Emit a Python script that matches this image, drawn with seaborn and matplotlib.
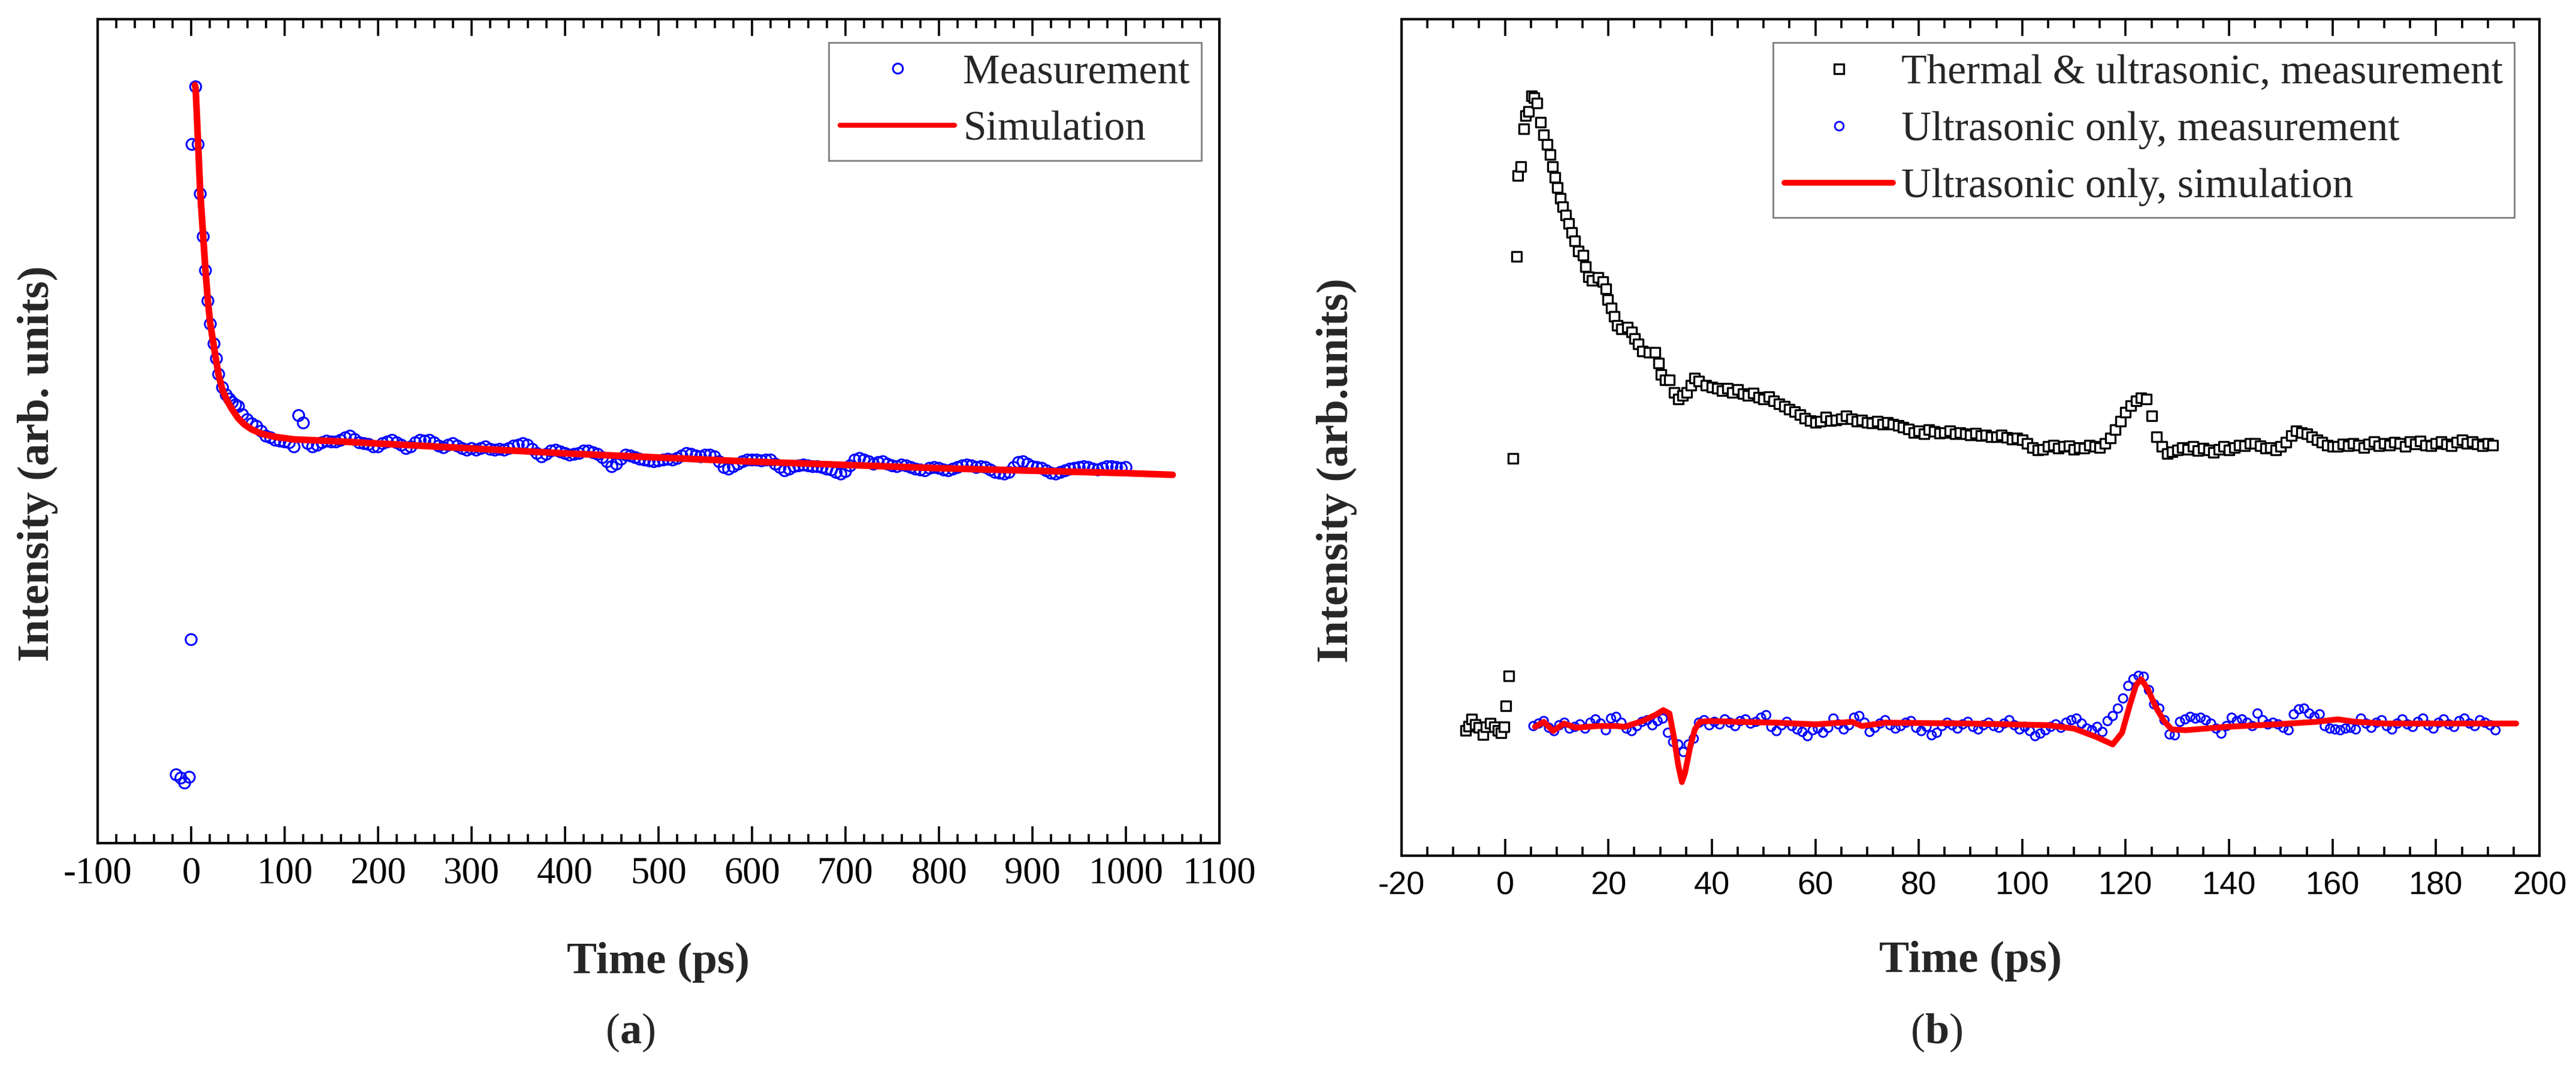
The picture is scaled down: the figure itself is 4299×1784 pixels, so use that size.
import numpy as np
import matplotlib
matplotlib.use("Agg")
import matplotlib.pyplot as plt
from matplotlib.lines import Line2D
from matplotlib.ticker import MultipleLocator, AutoMinorLocator
import seaborn as sns

# ---- panel (a) data : intensity in arbitrary units (0-100 of the axis) ----
a_meas_early_t = [-16, -11, -7, -2, 0, 0.9, 4.8, 7.4, 9.7, 12.9, 15.3, 17.9, 20.5,
                  24.4, 27, 29.4, 33.5, 37.5, 41, 44, 47.5, 50.6]
a_meas_early_v = [8.3, 7.9, 7.3, 8.0, 24.7, 84.8, 91.8, 84.8, 78.8, 73.6, 69.5, 65.8, 63.0,
                  60.6, 58.8, 56.9, 55.3, 54.4, 53.9, 53.5, 53.2, 53.0]
a_meas_tail_t = np.arange(55, 1001, 5)
a_meas_tail_v = [
    52.0, 51.4, 50.9, 50.6, 50.0, 49.4, 49.2, 48.9, 48.8, 48.7,
    48.6, 48.1, 51.9, 51.0, 48.5, 48.1, 48.3, 48.6, 48.8, 48.7,
    48.7, 48.9, 49.2, 49.4, 49.0, 48.6, 48.5, 48.4, 48.1, 48.1,
    48.5, 48.7, 48.9, 48.6, 48.3, 47.9, 48.1, 48.6, 48.9, 48.8,
    48.9, 48.6, 48.2, 48.0, 48.3, 48.5, 48.2, 47.9, 47.7, 47.9,
    47.7, 47.9, 48.1, 47.8, 47.7, 47.8, 47.7, 47.9, 48.2, 48.3,
    48.5, 48.3, 47.8, 47.3, 46.9, 47.2, 47.6, 47.7, 47.5, 47.3,
    47.1, 47.2, 47.3, 47.6, 47.6, 47.4, 47.2, 46.8, 46.3, 45.7,
    46.0, 46.6, 47.1, 47.0, 46.8, 46.6, 46.5, 46.4, 46.3, 46.4,
    46.5, 46.6, 46.5, 46.7, 47.0, 47.3, 47.2, 47.0, 46.9, 47.1,
    47.1, 46.9, 46.3, 45.6, 45.4, 45.7, 46.0, 46.3, 46.5, 46.5,
    46.5, 46.4, 46.5, 46.5, 46.0, 45.6, 45.2, 45.4, 45.7, 45.8,
    45.9, 45.8, 45.7, 45.7, 45.6, 45.4, 45.3, 45.0, 44.8, 45.1,
    45.8, 46.5, 46.7, 46.5, 46.3, 46.0, 46.2, 46.3, 46.0, 45.8,
    45.7, 45.9, 45.8, 45.6, 45.4, 45.3, 45.2, 45.5, 45.6, 45.5,
    45.3, 45.2, 45.4, 45.6, 45.8, 45.9, 45.8, 45.6, 45.7, 45.6,
    45.3, 45.0, 44.9, 44.8, 45.0, 45.6, 46.2, 46.3, 46.0, 45.7,
    45.6, 45.5, 45.2, 44.9, 44.8, 45.0, 45.2, 45.4, 45.5, 45.6,
    45.7, 45.6, 45.4, 45.3, 45.5, 45.7, 45.7, 45.6, 45.5, 45.6,
]
a_sim_t = [4, 4.8, 7.4, 9.7, 12.9, 15.3, 17.9, 20.5, 24.4, 27, 29.4, 33.5, 38, 43.5, 50,
           57, 65, 75, 90, 110, 150, 200, 300, 400, 500, 600, 700, 800, 900, 1000, 1050]
a_sim_v = [92.0, 91.6, 85.0, 79.0, 73.6, 69.5, 65.8, 63.0, 60.2, 58.4, 56.8, 55.0, 53.8,
           52.7, 51.6, 50.8, 50.2, 49.7, 49.3, 49.0, 48.8, 48.5, 47.9, 47.3, 46.8, 46.3,
           45.9, 45.5, 45.2, 44.9, 44.7]

# ---- panel (b) data ----
b_th_early_t = [-7.6, -7.0, -6.4, -5.7, -5.1, -4.3, -3.7, -2.8, -2.0, -1.4, -0.8, -0.2, 0.2,
                0.7, 1.6, 2.2, 2.5, 3.1, 3.6, 4.0, 4.6, 5.1, 5.6, 6.2, 6.9, 7.4, 8.1, 8.7,
                9.2, 9.6, 10.1, 10.7, 11.2, 11.8, 12.3, 12.9, 13.5, 14.2, 15.1, 15.6, 16.2,
                16.8, 18.0, 18.9, 19.5, 19.9, 20.5, 21.1, 21.7, 22.5, 23.7, 24.5, 25.1, 25.8,
                26.6, 27.8, 29.0, 29.7, 30.2, 31.0, 31.8, 32.7, 33.5, 34.3, 35.1, 35.9, 36.7,
                37.5, 38.8, 40.0]
b_th_early_v = [15.0, 15.5, 16.3, 15.7, 15.3, 14.5, 15.4, 15.8, 15.4, 15.0, 14.7, 15.4, 17.9,
                21.5, 47.5, 71.6, 81.3, 82.4, 86.9, 88.5, 89.0, 90.8, 90.6, 90.0, 87.7, 86.2,
                85.0, 83.8, 82.4, 81.1, 79.9, 78.6, 77.6, 76.6, 75.6, 74.5, 73.5, 72.3, 71.8,
                70.4, 69.2, 68.8, 69.1, 68.6, 67.8, 66.5, 65.5, 64.5, 63.4, 63.0, 63.2, 62.6,
                61.8, 61.2, 60.3, 60.2, 60.2, 58.9, 57.5, 56.9, 56.9, 55.4, 54.6, 55.0, 55.4,
                56.2, 57.1, 56.7, 56.2, 56.0]
b_th_tail_t = np.arange(41, 192, 1)
b_th_tail_v = [
    55.9, 55.6, 55.9, 55.4, 55.7, 55.2, 55.0, 55.3, 54.8, 54.6,
    54.9, 54.4, 54.0, 53.7, 53.4, 53.1, 52.7, 52.3, 52.0, 51.8,
    51.9, 52.4, 52.0, 52.1, 52.2, 52.6, 52.2, 51.9, 52.1, 51.8,
    51.7, 51.9, 51.6, 51.8, 51.6, 51.4, 51.2, 51.0, 50.6, 50.8,
    50.4, 50.9, 50.7, 50.5, 50.6, 50.8, 50.4, 50.6, 50.4, 50.3,
    50.5, 50.2, 50.3, 50.1, 50.1, 50.3, 50.0, 49.8, 49.9, 49.7,
    49.3, 48.8, 48.5, 48.6, 48.9, 49.1, 48.7, 48.9, 49.0, 48.6,
    48.8, 48.7, 49.1, 48.9, 48.8, 49.3, 49.9, 50.9, 51.9, 53.0,
    53.8, 54.4, 54.7, 54.6, 52.6, 50.1, 48.9, 48.1, 48.3, 48.5,
    48.8, 48.6, 48.9, 48.4, 48.7, 48.5, 48.2, 48.6, 48.9, 48.5,
    48.8, 49.1, 49.0, 49.3, 49.3, 49.0, 48.7, 48.8, 48.5, 48.9,
    49.4, 50.2, 50.8, 50.6, 50.4, 50.1, 49.7, 49.4, 49.1, 48.9,
    48.9, 49.2, 49.0, 49.3, 49.1, 48.8, 49.2, 49.5, 49.0, 49.3,
    49.1, 49.4, 49.3, 48.9, 49.5, 49.2, 49.6, 49.1, 49.0, 49.3,
    49.5, 49.2, 49.0, 49.4, 49.7, 49.3, 49.5, 49.2, 49.0, 49.3,
    49.1,
]
b_us_t = np.arange(5.5, 192, 1)
b_us_v = [
    15.5, 15.8, 16.1, 15.3, 14.9, 15.6, 15.9, 15.2, 15.4, 15.7,
    15.2, 15.9, 16.3, 15.8, 15.0, 16.4, 16.6, 15.9, 15.2, 14.9,
    15.5, 16.0, 16.2, 15.6, 16.1, 16.4, 14.7, 13.6, 13.3, 12.4,
    13.3, 14.0, 15.9, 16.2, 15.6, 16.0, 15.7, 16.3, 15.9, 15.5,
    16.1, 16.3, 15.8, 16.0, 16.5, 16.8, 15.4, 14.9, 15.6, 16.0,
    15.5, 15.1, 14.8, 14.3, 15.0, 15.2, 14.7, 15.3, 16.4, 15.7,
    15.1, 15.6, 16.5, 16.7, 15.9, 14.8, 15.3, 15.8, 16.2, 15.6,
    15.2, 15.5, 15.9, 16.1, 15.3, 14.9, 15.4, 14.4, 14.7, 15.5,
    15.9, 15.6, 15.2, 15.7, 16.0, 15.4, 15.1, 15.6, 15.9, 15.5,
    15.3, 15.8, 16.2, 15.6, 15.1, 15.4, 14.9, 14.3, 14.6, 15.0,
    15.4, 15.7, 15.3, 15.9, 16.2, 16.4, 15.8, 15.2, 15.0, 15.4,
    14.8, 16.1, 16.7, 17.6, 18.8, 20.3, 21.1, 21.5, 21.4, 19.8,
    18.1, 17.6, 16.2, 14.5, 14.4, 16.0, 16.3, 16.6, 16.4, 16.5,
    16.2, 15.8, 15.2, 14.6, 15.5, 16.5, 16.1, 16.3, 15.9, 15.5,
    17.0, 16.2, 15.7, 15.9, 15.7, 15.3, 15.0, 16.9, 17.5, 17.6,
    17.0, 16.6, 16.9, 15.5, 15.2, 15.1, 15.0, 15.2, 15.3, 15.1,
    16.4, 15.8, 15.3, 15.9, 16.2, 15.5, 15.1, 15.8, 16.3, 15.7,
    15.4, 16.0, 16.4, 15.6, 15.2, 15.9, 16.3, 15.7, 15.4, 16.1,
    16.4, 15.8, 15.5, 16.2, 15.9, 15.6, 15.0,
]
b_sim_t = [5.8, 7.5, 9.3, 11.4, 13.7, 18, 21.6, 23.1, 26.6, 29.3, 30.6, 31.8, 32.7, 33.5,
           34.2, 34.8, 35.8, 36.7, 37.7, 39.6, 44.7, 52.4, 60.1, 67.1, 69.0, 73.6, 90, 105,
           110, 114.3, 117.5, 119.3, 120.8, 122.0, 123.0, 124.3, 125.8, 127.4, 128.9, 131.6,
           139.4, 149.0, 156.8, 161.0, 164.5, 170, 180, 195.5]
b_sim_v = [15.4, 16.0, 14.9, 15.8, 15.3, 15.5, 15.5, 15.4, 16.1, 16.9, 17.4, 17.0, 14.0, 10.8,
           8.8, 9.9, 13.0, 15.1, 16.0, 16.1, 16.0, 15.9, 15.7, 16.0, 15.5, 15.9, 15.8, 15.6,
           15.2, 14.2, 13.3, 14.7, 18.0, 20.4, 21.1, 19.9, 17.8, 16.1, 15.1, 15.0, 15.4, 15.7,
           16.0, 16.3, 16.0, 15.8, 15.8, 15.8]

a_labels = ["Measurement", "Simulation"]
b_labels = ["Thermal & ultrasonic, measurement", "Ultrasonic only, measurement",
            "Ultrasonic only, simulation"]

sns.set_theme(style="ticks")
plt.rcParams["font.family"] = ["Liberation Serif", "DejaVu Serif"]
plt.rcParams["axes.unicode_minus"] = False
plt.rcParams["mathtext.fontset"] = "custom"
plt.rcParams["mathtext.rm"] = "Liberation Serif"
plt.rcParams["mathtext.bf"] = "Liberation Serif:bold"

BLUE = "#0000ff"
RED = "#ff0000"

fig = plt.figure(figsize=(42.99, 17.84), dpi=100)
ax_a = fig.add_axes([0.03792, 0.21132, 0.43545, 0.77074])
ax_b = fig.add_axes([0.54408, 0.19955, 0.44173, 0.78251])

# panel (a)
a_t = np.concatenate([a_meas_early_t, a_meas_tail_t])
a_v = np.concatenate([a_meas_early_v, a_meas_tail_v])
sns.scatterplot(x=a_t, y=a_v, ax=ax_a, marker="o", s=175, facecolor="none",
                edgecolor=BLUE, linewidth=2.2, zorder=2)
sns.lineplot(x=a_sim_t, y=a_sim_v, ax=ax_a, color=RED, linewidth=8, sort=False,
             estimator=None, zorder=3, solid_capstyle="round")

# panel (b)
b_t = np.concatenate([b_th_early_t, b_th_tail_t])
b_v = np.concatenate([b_th_early_v, b_th_tail_v])
sns.scatterplot(x=b_t, y=b_v, ax=ax_b, marker="s", s=125, facecolor="white",
                edgecolor="black", linewidth=2.4, zorder=2)
sns.scatterplot(x=b_us_t, y=b_us_v, ax=ax_b, marker="o", s=105, facecolor="none",
                edgecolor=BLUE, linewidth=2.1, zorder=3)
sns.lineplot(x=b_sim_t, y=b_sim_v, ax=ax_b, color=RED, linewidth=7, sort=False,
             estimator=None, zorder=4, solid_capstyle="round")

for ax, xl, major, nminor, lab_font, lab_size, pad in [
        (ax_a, (-100, 1100), 100, 5, "Liberation Serif", 45, 16),
        (ax_b, (-20, 200), 20, 4, "Liberation Sans", 39, 18)]:
    ax.set_xlim(*xl)
    ax.set_ylim(0, 100)
    ax.set_xlabel("")
    ax.set_ylabel("")
    ax.xaxis.set_major_locator(MultipleLocator(major))
    ax.xaxis.set_minor_locator(AutoMinorLocator(nminor))
    ax.set_yticks([])
    ax.tick_params(axis="x", which="both", direction="in", top=True, bottom=True,
                   width=2.6, color="black", pad=pad)
    ax.tick_params(axis="x", which="major", length=20)
    ax.tick_params(axis="x", which="minor", length=11)
    for lbl in ax.get_xticklabels():
        lbl.set_fontfamily(lab_font)
        lbl.set_fontsize(lab_size)
        lbl.set_color("black")
    for sp in ax.spines.values():
        sp.set_visible(True)
        sp.set_linewidth(3)
        sp.set_color("black")

# legends
h_meas = Line2D([], [], linestyle="none", marker="o", markersize=12, markerfacecolor="none",
                markeredgecolor=BLUE, markeredgewidth=2.2)
h_sim = Line2D([], [], color=RED, linewidth=6, solid_capstyle="round")
leg_a = ax_a.legend([h_meas, h_sim], a_labels, loc="upper right",
                    bbox_to_anchor=(0.984, 0.972), borderaxespad=0, fontsize=50,
                    frameon=True, fancybox=False, edgecolor="#7f7f7f", framealpha=1,
                    handlelength=2.75, handletextpad=0.2, labelspacing=0.45,
                    borderpad=0.28, numpoints=1)
leg_a.get_frame().set_linewidth(2)

h_th = Line2D([], [], linestyle="none", marker="s", markersize=11, markerfacecolor="white",
              markeredgecolor="black", markeredgewidth=2.4)
h_us = Line2D([], [], linestyle="none", marker="o", markersize=10.5, markerfacecolor="none",
              markeredgecolor=BLUE, markeredgewidth=2.1)
h_bs = Line2D([], [], color=RED, linewidth=7, solid_capstyle="round")
leg_b = ax_b.legend([h_th, h_us, h_bs], b_labels, loc="upper right",
                    bbox_to_anchor=(0.978, 0.972), borderaxespad=0, fontsize=50,
                    frameon=True, fancybox=False, edgecolor="#7f7f7f", framealpha=1,
                    handlelength=2.6, handletextpad=0.2, labelspacing=0.45,
                    borderpad=0.28, numpoints=1)
leg_b.get_frame().set_linewidth(2)

# axis titles and captions
W, H = 4299, 1784
fig.text(1099 / W, 1 - 1606 / H, "Time (ps)", ha="center", va="center",
         fontsize=54, fontweight="bold")
fig.text(3288 / W, 1 - 1604 / H, "Time (ps)", ha="center", va="center",
         fontsize=54, fontweight="bold")
fig.text(63 / W, 1 - 774 / H, "Intensity (arb. units)", ha="center", va="center",
         rotation=90, fontsize=54, fontweight="bold")
fig.text(2231 / W, 1 - 785 / H, "Intensity (arb.units)", ha="center", va="center",
         rotation=90, fontsize=54, fontweight="bold")
fig.text(1052 / W, 1 - 1723 / H, r"($\mathbf{a}$)", ha="center", va="center", fontsize=52)
fig.text(3232 / W, 1 - 1723 / H, r"($\mathbf{b}$)", ha="center", va="center", fontsize=52)

fig.savefig("out.png", dpi=100, facecolor="white")
